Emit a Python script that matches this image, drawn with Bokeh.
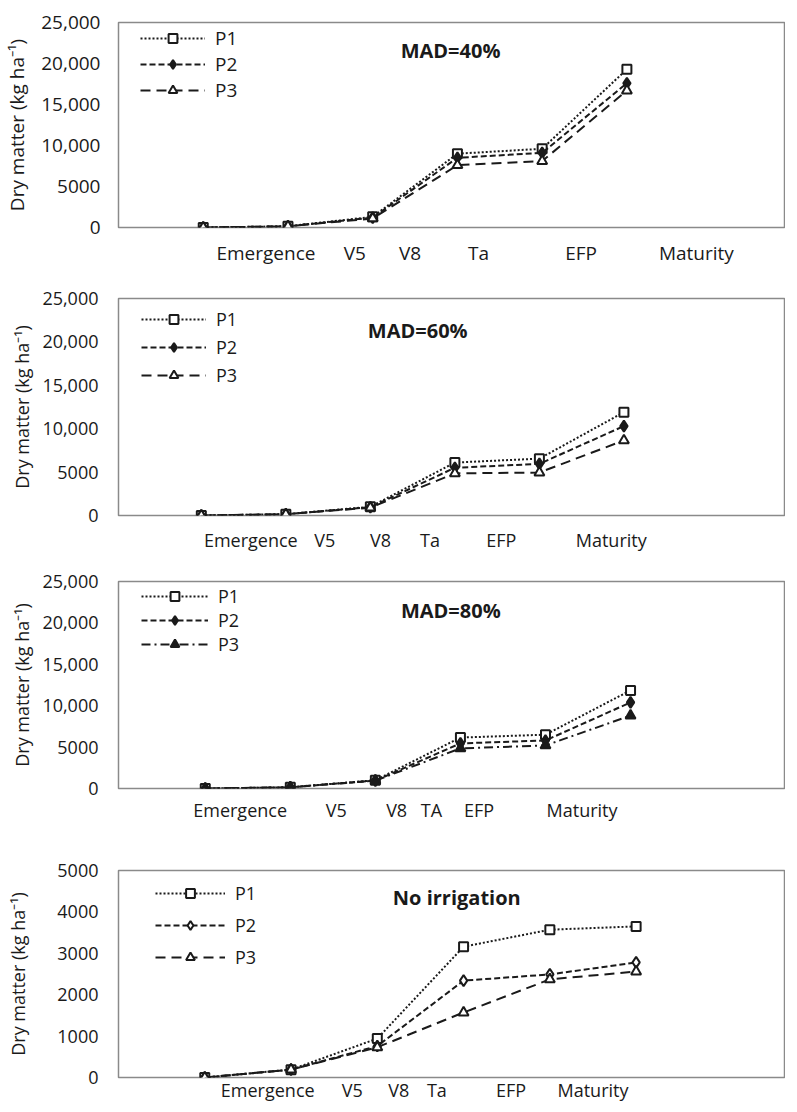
from bokeh.plotting import figure
from bokeh.layouts import column
from bokeh.models import Range1d, FixedTicker, Legend, LegendItem, Label
from bokeh.embed import file_html
from bokeh.resources import INLINE

# ---------------- data ----------------
sample = [0, 1, 2, 3, 4, 5]          # sampling dates (index)
stages = ["Emergence", "V5", "V8", "Ta", "EFP", "Maturity"]
stages_80 = ["Emergence", "V5", "V8", "TA", "EFP", "Maturity"]
series_names = ["P1", "P2", "P3"]

p1_mad40 = [0, 150, 1300, 9000, 9600, 19300]
p2_mad40 = [0, 150, 1200, 8500, 9100, 17600]
p3_mad40 = [0, 150, 1100, 7600, 8100, 16700]

p1_mad60 = [0, 150, 1000, 6100, 6550, 11900]
p2_mad60 = [0, 150, 950, 5500, 5950, 10300]
p3_mad60 = [0, 150, 900, 4850, 4950, 8650]

p1_mad80 = [0, 150, 1000, 6150, 6500, 11850]
p2_mad80 = [0, 150, 950, 5450, 5800, 10400]
p3_mad80 = [0, 150, 950, 4850, 5200, 8800]

p1_noirr = [0, 190, 940, 3160, 3570, 3650]
p2_noirr = [0, 190, 760, 2340, 2490, 2780]
p3_noirr = [0, 190, 730, 1570, 2370, 2560]

titles = ["MAD=40%", "MAD=60%", "MAD=80%", "No irrigation"]

yticks_big = [0, 5000, 10000, 15000, 20000, 25000]
ylabels_big = ["0", "5000", "10,000", "15,000", "20,000", "25,000"]
yticks_small = [0, 1000, 2000, 3000, 4000, 5000]
ylabels_small = ["0", "1000", "2000", "3000", "4000", "5000"]

# ---------------- layout / style ----------------
FONT = "Open Sans"
INK = "#1a1a1a"

panels = [
    dict(vals=[p1_mad40, p2_mad40, p3_mad40], labels=stages, ymax=25000,
         yt=yticks_big, yl=ylabels_big, title=titles[0],
         h=270, bt=22, bb=43, bl=115, xr=(-1.0, 6.86),
         lab_pos=[0.74, 1.79, 2.44, 3.25, 4.46, 5.82], x_stand=12,
         y_stand=18, ylab_stand=8, fs="19px",
         title_xy=(2.33, 21600),
         leg=dict(x=22, y=124, gh=22, sp=0, gw=65),
         p2fill=INK, p3dash="10 6", p3fill="white"),
    dict(vals=[p1_mad60, p2_mad60, p3_mad60], labels=stages, ymax=25000,
         yt=yticks_big, yl=ylabels_big, title=titles[1],
         h=285, bt=28, bb=40, bl=110, xr=(-0.98, 6.90),
         lab_pos=[0.585, 1.46, 2.12, 2.705, 3.55, 4.85], x_stand=12,
         y_stand=20, ylab_stand=5, fs="18px",
         title_xy=(1.97, 21300),
         leg=dict(x=23, y=128, gh=22, sp=3.5, gw=65),
         p2fill=INK, p3dash="10 6", p3fill="white"),
    dict(vals=[p1_mad80, p2_mad80, p3_mad80], labels=stages_80, ymax=25000,
         yt=yticks_big, yl=ylabels_big, title=titles[2],
         h=283, bt=26, bb=50, bl=115, xr=(-1.02, 6.81),
         lab_pos=[0.41, 1.54, 2.25, 2.66, 3.22, 4.43], x_stand=9,
         y_stand=20, ylab_stand=5, fs="18px",
         title_xy=(2.30, 21500),
         leg=dict(x=23, y=132, gh=22, sp=0, gw=67),
         p2fill=INK, p3dash="9 4 2 4", p3fill=INK),
    dict(vals=[p1_noirr, p2_noirr, p3_noirr], labels=stages, ymax=5000,
         yt=yticks_small, yl=ylabels_small, title=titles[3],
         h=266, bt=32, bb=27, bl=118, xr=(-1.0, 6.72),
         lab_pos=[0.73, 1.71, 2.25, 2.69, 3.55, 4.50], x_stand=0,
         y_stand=20, ylab_stand=24, fs="18px",
         title_xy=(2.18, 4350),
         leg=dict(x=37, y=108, gh=22, sp=8.5, gw=70),
         p2fill="white", p3dash="10 6", p3fill="white"),
]

figs = []
for cfg in panels:
    p = figure(width=785, height=cfg["h"], output_backend="svg",
               toolbar_location=None,
               x_range=Range1d(*cfg["xr"]), y_range=Range1d(0, cfg["ymax"]),
               min_border_left=cfg["bl"], min_border_right=1,
               min_border_top=cfg["bt"], min_border_bottom=cfg["bb"])
    p.xgrid.visible = False
    p.ygrid.visible = False
    p.outline_line_color = "#8a8a8a"
    p.outline_line_width = 1.5
    p.background_fill_color = "white"
    p.border_fill_color = "white"

    # x axis: stage labels at fixed positions
    xa = p.xaxis[0]
    xa.ticker = FixedTicker(ticks=cfg["lab_pos"])
    xa.major_label_overrides = {pos: lab for pos, lab in zip(cfg["lab_pos"], cfg["labels"])}
    xa.axis_line_color = None
    xa.major_tick_line_color = None
    xa.minor_tick_line_color = None
    xa.major_tick_out = 0
    xa.major_label_standoff = cfg["x_stand"]
    xa.major_label_text_font = FONT
    xa.major_label_text_font_size = cfg["fs"]
    xa.major_label_text_color = INK

    ya = p.yaxis[0]
    ya.ticker = FixedTicker(ticks=cfg["yt"])
    ya.major_label_overrides = {t: l for t, l in zip(cfg["yt"], cfg["yl"])}
    ya.axis_line_color = None
    ya.major_tick_line_color = None
    ya.minor_tick_line_color = None
    ya.major_tick_out = 0
    ya.major_label_standoff = cfg["y_stand"]
    ya.major_label_text_font = FONT
    ya.major_label_text_font_size = cfg["fs"]
    ya.major_label_text_color = INK
    ya.axis_label = "Dry matter (kg ha\u207b\u00b9)"
    ya.axis_label_text_font = FONT
    ya.axis_label_text_font_style = "normal"
    ya.axis_label_text_font_size = cfg["fs"]
    ya.axis_label_text_color = INK
    ya.axis_label_standoff = cfg["ylab_stand"]

    styles = [
        dict(dash="2 2", marker="square", fill="white", size=9),
        dict(dash="6 3", marker="diamond", fill=cfg["p2fill"], size=11),
        dict(dash=cfg["p3dash"], marker="triangle", fill=cfg["p3fill"], size=10),
    ]
    items = []
    for name, vals, st in zip(series_names, cfg["vals"], styles):
        lr = p.line(sample, vals, line_color=INK, line_width=2, line_dash=st["dash"])
        sr = p.scatter(sample, vals, marker=st["marker"], size=st["size"],
                       line_color=INK, line_width=2, fill_color=st["fill"])
        items.append(LegendItem(label=name, renderers=[lr, sr]))

    lg = cfg["leg"]
    legend = Legend(items=items, location=(lg["x"], lg["y"]),
                    padding=0, margin=0, spacing=int(round(lg["sp"])),
                    glyph_width=lg["gw"], glyph_height=lg["gh"], label_height=lg["gh"],
                    label_standoff=10, label_text_font=FONT,
                    label_text_font_size=cfg["fs"], label_text_color=INK,
                    border_line_color=None, background_fill_alpha=0)
    p.add_layout(legend, "center")

    tx, ty = cfg["title_xy"]
    p.add_layout(Label(x=tx, y=ty, text=cfg["title"], text_font=FONT,
                       text_font_style="bold", text_font_size="20px",
                       text_color=INK, text_baseline="middle", text_align="left"))
    figs.append(p)

layout = column(*figs, spacing=0)
open("out.html", "w").write(file_html(layout, INLINE))
